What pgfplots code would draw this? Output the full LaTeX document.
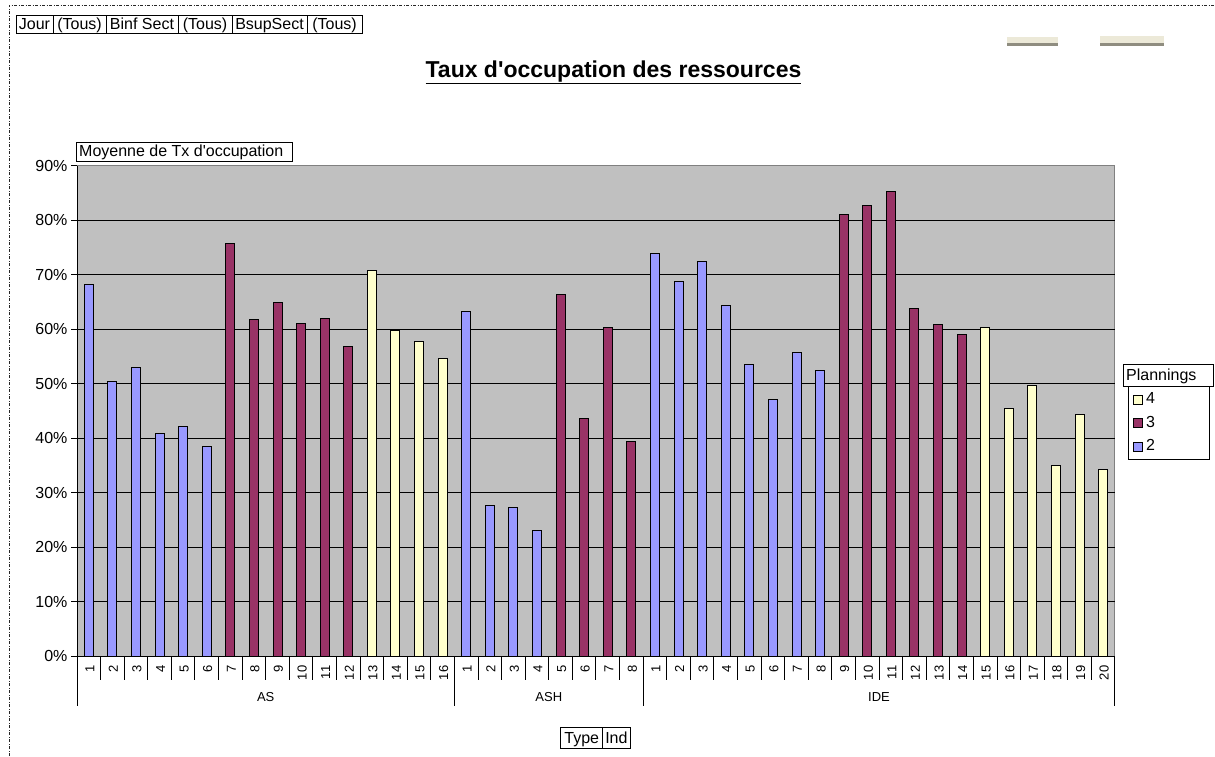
\documentclass[border=0pt]{standalone}
\usepackage{fontspec}
\setmainfont{Liberation Sans}
\newfontfamily\arial{Liberation Sans}
\usepackage{pgfplots}
\pgfplotsset{compat=1.18}
\definecolor{sblue}{HTML}{9999FF}
\definecolor{spurple}{HTML}{993366}
\definecolor{syellow}{HTML}{FFFFCC}
\definecolor{plotgray}{HTML}{C0C0C0}
\definecolor{framegray}{HTML}{808080}
\definecolor{btnfill}{HTML}{ECE9D8}
\definecolor{btnline}{HTML}{8F8D80}
\newcommand{\fs}{\fontsize{16}{19}\selectfont}
\newcommand{\fss}{\fontsize{13}{15}\selectfont}

\pgfplotstableread{
x y
0 68.2
1 50.3
2 52.9
3 40.8
4 42.1
5 38.4
16 63.3
17 27.6
18 27.3
19 23.0
24 73.9
25 68.8
26 72.4
27 64.4
28 53.5
29 47.0
30 55.7
31 52.4
}\seriestwo
\pgfplotstableread{
x y
6 75.6
7 61.7
8 64.8
9 61.1
10 62.0
11 56.7
20 66.3
21 43.5
22 60.2
23 39.3
32 81.0
33 82.6
34 85.3
35 63.7
36 60.9
37 59.0
}\seriesthree
\pgfplotstableread{
x y
12 70.7
13 59.8
14 57.7
15 54.6
38 60.3
39 45.4
40 49.7
41 34.9
42 44.3
43 34.3
}\seriesfour

\begin{document}
\begin{tikzpicture}[font=\arial\fs]
\path[use as bounding box] (0pt,0pt) rectangle (1215pt,-756pt);
% dashed chart border
\draw[black!85, line width=0.8pt, dash pattern=on 3pt off 1.5pt on 1pt off 1.5pt] (9pt,-756pt) -- (9pt,-5pt) -- (1215pt,-5pt);
% page field buttons
\draw[line width=0.8pt] (16pt,-15pt) rectangle (362pt,-33pt);
\foreach \xx in {53,106,178,232,307} {\draw[line width=0.8pt] (\xx pt,-15pt) -- (\xx pt,-33pt);}
\node[anchor=base, inner sep=0pt] at (34.5pt,-29.5pt) {Jour};
\node[anchor=base, inner sep=0pt] at (79.5pt,-29.5pt) {(Tous)};
\node[anchor=base, inner sep=0pt] at (142pt,-29.5pt) {Binf Sect};
\node[anchor=base, inner sep=0pt] at (205pt,-29.5pt) {(Tous)};
\node[anchor=base, inner sep=0pt] at (269.5pt,-29.5pt) {BsupSect};
\node[anchor=base, inner sep=0pt] at (334.5pt,-29.5pt) {(Tous)};
% top right buttons
\fill[btnfill] (1007pt,-36.5pt) rectangle (1058pt,-43pt);
\fill[btnline] (1007pt,-43pt) rectangle (1058pt,-45.5pt);
\fill[btnfill] (1100pt,-35.5pt) rectangle (1164pt,-43pt);
\fill[btnline] (1100pt,-43pt) rectangle (1164pt,-45.5pt);
% title
\node[anchor=base, inner sep=0pt, font=\arial\fontsize{23}{27}\selectfont\bfseries] at (613.5pt,-77pt) {\underline{Taux d'occupation des ressources}};

\begin{axis}[
  at={(77pt,-656pt)}, anchor=south west,
  scale only axis, width=1038pt, height=490.5pt,
  xmin=-0.5, xmax=43.5, ymin=0, ymax=90,
  enlargelimits=false, clip=false,
  axis background/.style={fill=plotgray, draw=framegray, line width=1pt},
  axis x line*=bottom, axis y line*=left,
  axis line style={black, line width=1pt, -},
  ybar, bar width=9pt, bar shift=0pt,
  ytick={0,10,...,80},
  extra y ticks={90},
  extra y tick style={grid=none},
  yticklabel={\pgfmathprintnumber{\tick}\%},
  /pgf/number format/assume math mode=true,
  ymajorgrids, grid style={black, line width=0.8pt},
  ytick align=outside, major tick length=6pt,
  ytick style={black, line width=1pt},
  xtick={0,...,43},
  xticklabels={1,2,3,4,5,6,7,8,9,10,11,12,13,14,15,16,1,2,3,4,5,6,7,8,1,2,3,4,5,6,7,8,9,10,11,12,13,14,15,16,17,18,19,20},
  xtick style={draw=none},
  xticklabel style={rotate=90, anchor=east, font=\arial\fss, yshift=-1pt},
  yticklabel style={font=\arial\fs},
  legend style={draw=black, fill=white, line width=0.8pt, at={(1.0125,0.5499)}, anchor=north west,
    inner sep=5pt, row sep=7.5pt, font=\arial\fs, cells={anchor=west},
    nodes={inner xsep=3pt, inner ysep=0pt, text height=12pt, text depth=4pt}},
  legend image code/.code={\draw[#1, draw=black, line width=0.8pt] (0pt,-4.5pt) rectangle (9pt,4.5pt);},
  reverse legend,
]
\addplot[fill=sblue, draw=black, line width=1pt] table[x=x, y=y] {\seriestwo};
\addlegendentry{\makebox[55pt][l]{2}}
\addplot[fill=spurple, draw=black, line width=1pt] table[x=x, y=y] {\seriesthree};
\addlegendentry{\makebox[55pt][l]{3}}
\addplot[fill=syellow, draw=black, line width=1pt] table[x=x, y=y] {\seriesfour};
\addlegendentry{\makebox[55pt][l]{4}}
\pgfplotsinvokeforeach{-0.5,0.5,...,43.5}{\draw[black, line width=1pt] (axis cs:#1,0) -- ++(0pt,-24pt);}
\pgfplotsinvokeforeach{-0.5,15.5,23.5,43.5}{\draw[black, line width=1pt] (axis cs:#1,0) -- ++(0pt,-50pt);}
\node[font=\arial\fss, inner sep=0pt, yshift=-41pt] at (axis cs:7.5,0) {AS};
\node[font=\arial\fss, inner sep=0pt, yshift=-41pt] at (axis cs:19.5,0) {ASH};
\node[font=\arial\fss, inner sep=0pt, yshift=-41pt] at (axis cs:33.5,0) {IDE};
\end{axis}

% data field button
\draw[line width=0.8pt, fill=white] (76pt,-142pt) rectangle (292pt,-161pt);
\node[anchor=base west, inner sep=0pt] at (79pt,-156.5pt) {Moyenne de Tx d'occupation};
% legend header
\draw[line width=0.8pt, fill=white] (1123pt,-364pt) rectangle (1213pt,-386pt);
\node[anchor=base west, inner sep=0pt] at (1126pt,-380.5pt) {Plannings};
% row field buttons
\draw[line width=0.8pt] (560.7pt,-727pt) rectangle (630pt,-748pt);
\draw[line width=0.8pt] (602.7pt,-727pt) -- (602.7pt,-748pt);
\node[anchor=base, inner sep=0pt] at (581.7pt,-743pt) {Type};
\node[anchor=base, inner sep=0pt] at (616.4pt,-743pt) {Ind};
\end{tikzpicture}
\end{document}
